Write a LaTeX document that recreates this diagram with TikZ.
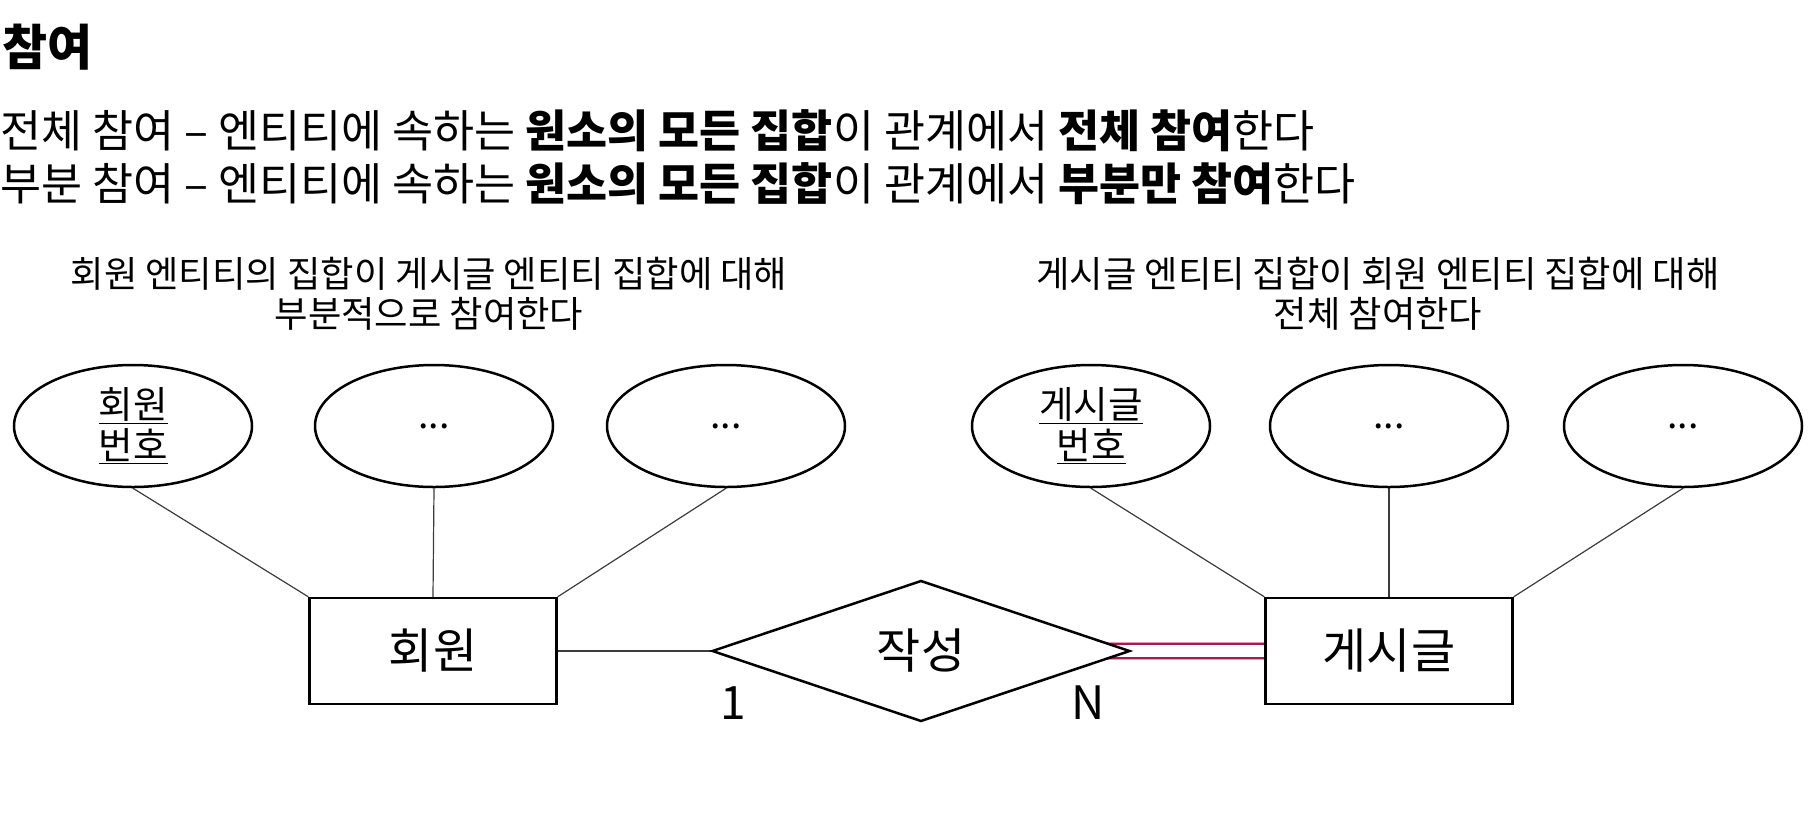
\documentclass[tikz,border=0pt]{standalone}
\usepackage{fontspec}
\setmainfont{Noto Sans CJK KR}
\usetikzlibrary{shapes.geometric,backgrounds,calc}
\definecolor{totalred}{RGB}{160,30,75}
\definecolor{totalhalo}{RGB}{235,150,180}
\definecolor{connGray}{RGB}{60,60,60}
\begin{document}
\begin{tikzpicture}[x=1pt,y=-1pt,
  attr/.style={ellipse, draw, line width=2.5pt, minimum width=238pt, minimum height=122pt, inner sep=0pt, font=\fontsize{37.5}{41}\selectfont, align=center},
  ent/.style={rectangle, draw, line width=2.5pt, minimum width=247pt, minimum height=106pt, inner sep=0pt, font=\fontsize{48}{52}\selectfont},
  rel/.style={diamond, draw, line width=2.5pt, fill=white, minimum width=418pt, minimum height=141pt, inner sep=0pt, font=\fontsize{48}{52}\selectfont},
  conn/.style={draw=connGray, line width=1.2pt},
  total/.style={preaction={draw=totalhalo, double=white, line width=4pt, double distance=10pt},
                draw=totalred, double=white, double distance=12pt, line width=2pt},
  captxt/.style={font=\fontsize{36.3}{40}\selectfont, align=center, inner sep=0pt},
  cardtxt/.style={font=\fontsize{46}{50}\selectfont, inner sep=0pt},
  body/.style={anchor=west, inner sep=0pt, font=\fontsize{44.6}{48}\selectfont}
]
\useasboundingbox (0,0) rectangle (1818,839);

\node[anchor=west, inner sep=0pt, font=\fontsize{49}{52}\selectfont\bfseries] (title) at (2,47) {참여};
\node[body] (l1) at (0,131) {전체 참여 – 엔티티에 속하는 \textbf{원소의 모든 집합}이 관계에서 \textbf{전체 참여}한다};
\node[body] (l2) at (0,184) {부분 참여 – 엔티티에 속하는 \textbf{원소의 모든 집합}이 관계에서 \textbf{부분만 참여}한다};

\node[captxt] (capL) at (429,294) {회원 엔티티의 집합이 게시글 엔티티 집합에 대해\\부분적으로 참여한다};
\node[captxt] (capR) at (1378,294) {게시글 엔티티 집합이 회원 엔티티 집합에 대해\\전체 참여한다};

\node[attr] (a1) at (133,426) {\underline{회원}\\\underline{번호}};
\node[attr] (a2) at (434,426) {...};
\node[attr] (a3) at (726,426) {...};
\node[attr] (b1) at (1091,426) {\underline{게시글}\\\underline{번호}};
\node[attr] (b2) at (1389,426) {...};
\node[attr] (b3) at (1683,426) {...};

\node[ent] (member) at (433,651) {회원};
\node[ent] (post) at (1389,651) {게시글};
\node[rel] (write) at (921,651) {작성};

\node[cardtxt] (c1) at (733,703) {1};
\node[cardtxt] (cN) at (1088,703) {N};

\begin{scope}[on background layer]
  \draw[conn] (a1.south) -- (member.north west);
  \draw[conn] (a2.south) -- (member.north);
  \draw[conn] (a3.south) -- (member.north east);
  \draw[conn] (b1.south) -- (post.north west);
  \draw[conn] (b2.south) -- (post.north);
  \draw[conn] (b3.south) -- (post.north east);
  \draw[conn] (member.east) -- (write.west);
  \draw[total] ($(write.east)+(-40,0)$) -- (post.west);
\end{scope}
\end{tikzpicture}
\end{document}
